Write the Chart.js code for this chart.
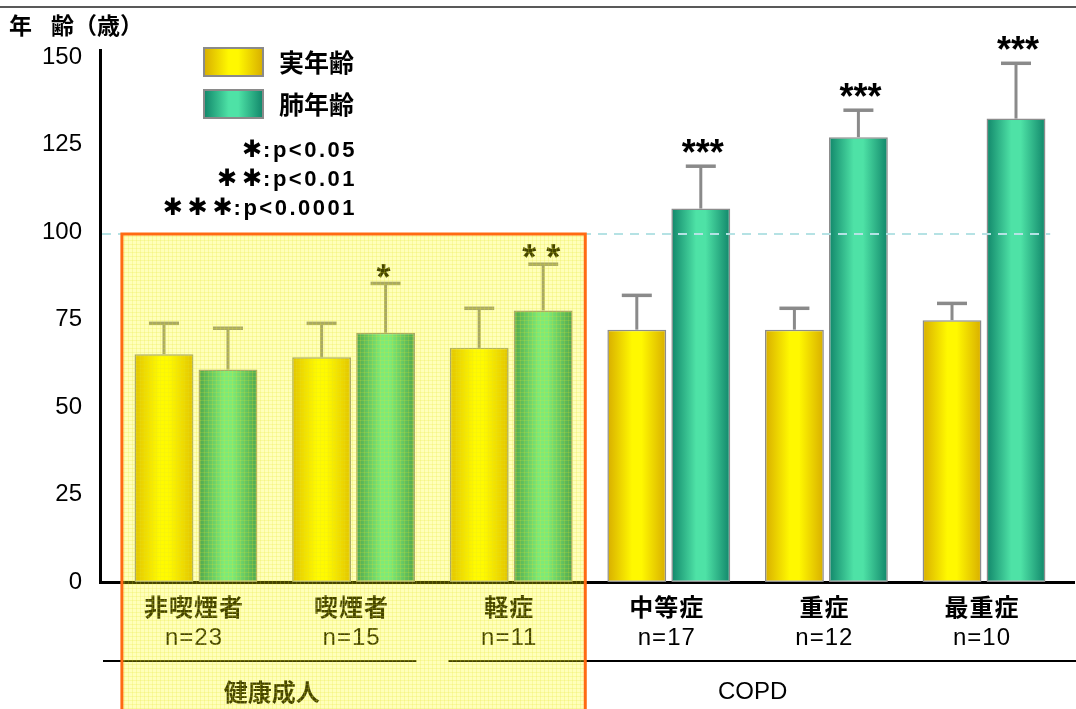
<!DOCTYPE html>
<html>
<head>
<meta charset="utf-8">
<script src="https://cdn.jsdelivr.net/npm/chart.js@4.4.1/dist/chart.umd.min.js"></script>
<style>
  html, body { margin: 0; padding: 0; background: #fff; }
  #wrap { width: 1076px; height: 709px; position: relative; }
</style>
</head>
<body>
<div id="wrap"><canvas id="c" width="1076" height="709"></canvas></div>
<script>
// Groups (healthy adults and COPD severity) and their sample sizes
const groups = ['非喫煙者', '喫煙者', '軽症', '中等症', '重症', '最重症'];
const counts = ['n=23', 'n=15', 'n=11', 'n=17', 'n=12', 'n=10'];

// Mean ages and standard deviations (years)
const actualAge = [65.1, 64.2, 66.9, 72.1, 72.1, 74.8];
const actualSD  = [8.8, 9.7, 11.3, 9.8, 6.1, 4.8];
const lungAge   = [60.7, 71.2, 77.6, 106.7, 127.1, 132.4];
const lungSD    = [11.8, 14.1, 13.2, 12.1, 7.7, 15.8];

// Significance of lung age vs. actual age
const significance = ['', '*', '* *', '***', '***', '***'];

const yTicks = [0, 25, 50, 75, 100, 125, 150];
const referenceAge = 100;
const seriesNames = ['実年齢', '肺年齢'];
const pStars = ['✱', '✱✱', '✱✱✱'];
const pValues = [':p<0.05', ':p<0.01', ':p<0.0001'];
const cohortLabels = ['健康成人', 'COPD'];
const cohortSpans = [[0, 1], [2, 5]];
const highlighted = [0, 2];

const SANS = "'Liberation Sans', Arial, 'Noto Sans CJK JP', sans-serif";
const CJK = "'Noto Sans CJK JP', 'Liberation Sans', sans-serif";
const SYM = "'DejaVu Sans', 'Noto Sans CJK JP', sans-serif";

const YELLOW = ['#d8ae00', '#fff800', '#fff800', '#d8ae00'];
const GREEN  = ['#11866a', '#4ee2a6', '#4ee2a6', '#11866a'];

function gradient(c, x0, x1, stops) {
  const g = c.createLinearGradient(x0, 0, x1, 0);
  g.addColorStop(0, stops[0]);
  g.addColorStop(0.42, stops[1]);
  g.addColorStop(0.58, stops[2]);
  g.addColorStop(1, stops[3]);
  return g;
}

function barFill(stops) {
  return (ctx) => {
    const el = ctx.element;
    if (!el || !isFinite(el.x) || !isFinite(el.width)) return stops[1];
    return gradient(ctx.chart.ctx, el.x - el.width / 2, el.x + el.width / 2, stops);
  };
}

// faint grid texture for the healthy-adult panel
const texture = (() => {
  const pc = document.createElement('canvas');
  pc.width = 4; pc.height = 4;
  const p = pc.getContext('2d');
  p.fillStyle = 'rgba(225,225,40,0.2)';
  p.fillRect(0, 0, 4, 1);
  p.fillRect(0, 0, 1, 4);
  return pc;
})();

const decor = {
  id: 'decor',
  beforeDraw(chart) {
    const c = chart.ctx;
    c.save();
    c.fillStyle = '#fff';
    c.fillRect(0, 0, chart.width, chart.height);
    c.strokeStyle = '#222';
    c.lineWidth = 1.5;
    c.beginPath();
    c.moveTo(0, 7); c.lineTo(chart.width, 7);
    c.stroke();
    c.restore();
  },
  afterDatasetsDraw(chart) {
    const c = chart.ctx;
    const xs = chart.scales.x, ys = chart.scales.y;
    const area = chart.chartArea;
    const unit = xs.getPixelForValue(1) - xs.getPixelForValue(0);
    c.save();

    // error bars (mean + SD)
    const sds = [actualSD, lungSD];
    chart.data.datasets.forEach((ds, di) => {
      chart.getDatasetMeta(di).data.forEach((el, i) => {
        const top = ys.getPixelForValue(ds.data[i].y + sds[di][i]);
        c.strokeStyle = '#8a8a8a';
        c.lineWidth = 3;
        c.beginPath();
        c.moveTo(el.x, el.y); c.lineTo(el.x, top);
        c.stroke();
        c.lineWidth = 3.5;
        c.beginPath();
        c.moveTo(el.x - 15, top); c.lineTo(el.x + 15, top);
        c.stroke();
      });
    });

    // reference line
    const yRef = ys.getPixelForValue(referenceAge);
    c.strokeStyle = '#b5e2e4';
    c.lineWidth = 2;
    c.setLineDash([9, 7]);
    c.beginPath();
    c.moveTo(area.left + 2, yRef + 2);
    c.lineTo(xs.getPixelForValue(groups.length - 1) + 0.42 * unit, yRef + 2);
    c.stroke();
    c.setLineDash([]);

    // significance marks above lung-age bars
    const lungMeta = chart.getDatasetMeta(1);
    c.fillStyle = '#000';
    c.textAlign = 'center';
    c.textBaseline = 'alphabetic';
    significance.forEach((s, i) => {
      if (!s) return;
      const el = lungMeta.data[i];
      const cap = ys.getPixelForValue(lungAge[i] + lungSD[i]);
      const strong = s === '***';
      const size = 36;
      c.font = `bold ${size}px ${SANS}`;
      const cy = cap - (strong ? 21 : 14);
      c.fillText(s, el.x + (strong ? 2 : -2), cy + 0.56 * size);
    });

    // category labels
    c.textBaseline = 'middle';
    c.letterSpacing = '1px';
    groups.forEach((g, i) => {
      const x = xs.getPixelForValue(i);
      c.font = `bold 24px ${CJK}`;
      c.fillText(g, x - 2, 607);
      c.font = `24px ${SANS}`;
      c.fillText(counts[i], x - 2, 638);
    });
    c.letterSpacing = '0px';

    // cohort brackets
    const split = (xs.getPixelForValue(cohortSpans[0][1]) + xs.getPixelForValue(cohortSpans[1][0])) / 2;
    c.strokeStyle = '#000';
    c.lineWidth = 2;
    c.beginPath();
    c.moveTo(area.left + 3, 661); c.lineTo(split - 16, 661);
    c.moveTo(split + 16, 661); c.lineTo(chart.width, 661);
    c.stroke();
    cohortSpans.forEach((sp, k) => {
      const x = (xs.getPixelForValue(sp[0]) + xs.getPixelForValue(sp[1])) / 2;
      c.font = k === 0 ? `bold 24px ${CJK}` : `24px ${SANS}`;
      c.fillText(cohortLabels[k], x + (k === 0 ? -3 : 5), 692);
    });

    // healthy-adult panel
    const rx0 = xs.getPixelForValue(highlighted[0]) - 0.47 * unit;
    const rx1 = xs.getPixelForValue(highlighted[1]) + 0.47 * unit;
    const ry0 = yRef + 2;
    c.fillStyle = 'rgba(255,255,0,0.27)';
    c.fillRect(rx0, ry0, rx1 - rx0, chart.height - ry0 + 5);
    c.fillStyle = c.createPattern(texture, 'repeat');
    c.fillRect(rx0, ry0, rx1 - rx0, chart.height - ry0 + 5);
    c.strokeStyle = '#ff6a12';
    c.lineWidth = 3;
    c.strokeRect(rx0, ry0, rx1 - rx0, chart.height - ry0 + 10);

    // series legend
    const boxes = [[204, 48, YELLOW], [204, 90, GREEN]];
    boxes.forEach(([bx, by, st], k) => {
      c.fillStyle = gradient(c, bx, bx + 59, st);
      c.fillRect(bx, by, 59, 28);
      c.strokeStyle = '#8a8a8a';
      c.lineWidth = 2;
      c.strokeRect(bx, by, 59, 28);
      c.fillStyle = '#000';
      c.font = `bold 25px ${CJK}`;
      c.textAlign = 'left';
      c.fillText(seriesNames[k], 279, by + 14);
    });

    // p-value key: heavy asterisks followed by the threshold
    c.textAlign = 'right';
    pValues.forEach((t, k) => {
      const y = 151 + k * 29;
      c.font = `bold 22px ${SANS}`;
      c.letterSpacing = '2.5px';
      c.fillText(t, 357, y);
      const w = c.measureText(t).width;
      c.letterSpacing = '0px';
      c.font = `bold 24px ${SYM}`;
      c.fillText(pStars[k].split('').join('\u2009'), 356 - w, y);
    });

    // axis title
    c.textAlign = 'left';
    c.font = `bold 23px ${CJK}`;
    c.fillText('年', 9, 25);
    c.fillText('齢（歳）', 51, 25);

    c.restore();
  }
};

const chart = new Chart(document.getElementById('c'), {
  type: 'bar',
  data: {
    datasets: [
      {
        label: seriesNames[0],
        data: actualAge.map((v, i) => ({ x: i, y: v })),
        backgroundColor: barFill(YELLOW),
        borderColor: '#8c8c8c', borderWidth: 1.5, borderSkipped: false,
        categoryPercentage: 0.812, barPercentage: 0.92
      },
      {
        label: seriesNames[1],
        data: lungAge.map((v, i) => ({ x: i, y: v })),
        backgroundColor: barFill(GREEN),
        borderColor: '#8c8c8c', borderWidth: 1.5, borderSkipped: false,
        categoryPercentage: 0.812, barPercentage: 0.92
      }
    ]
  },
  options: {
    responsive: false,
    animation: false,
    events: [],
    layout: { padding: { top: 50, right: 2, left: 0, bottom: 0 } },
    plugins: { legend: { display: false }, tooltip: { enabled: false } },
    scales: {
      x: {
        type: 'linear', min: -0.609, max: 5.571, offset: false,
        grid: { display: false, drawTicks: false },
        border: { color: '#000', width: 3 },
        ticks: { display: false },
        afterBuildTicks: s => { s.ticks = groups.map((_, i) => ({ value: i })); },
        afterFit: s => { s.height = 127; }
      },
      y: {
        min: 0, max: 152,
        grid: { display: false, drawTicks: false },
        border: { color: '#000', width: 3 },
        ticks: { color: '#000', font: { family: SANS, size: 24 }, padding: 18 },
        afterBuildTicks: s => { s.ticks = yTicks.map(v => ({ value: v })); },
        afterFit: s => { s.width = 100; }
      }
    }
  },
  plugins: [decor]
});
chart.update();
</script>
</body>
</html>
